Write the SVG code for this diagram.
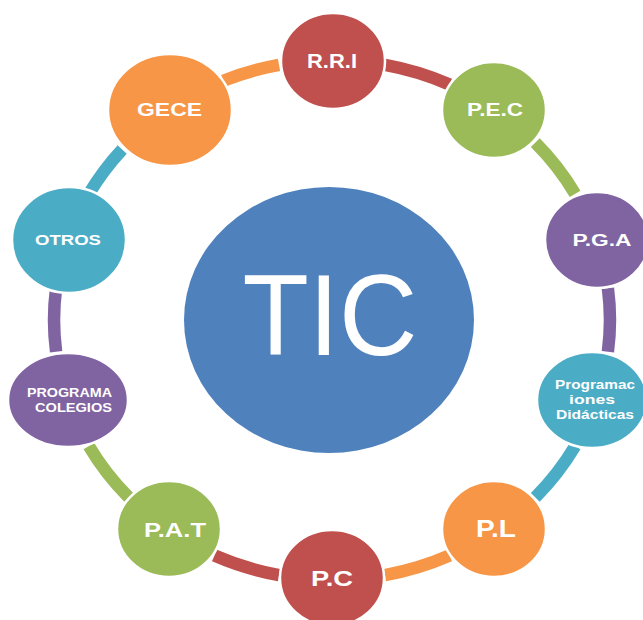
<svg xmlns="http://www.w3.org/2000/svg" width="643" height="620" viewBox="0 0 643 620">
<style>
.c{fill:none;stroke-width:12.5;stroke-linecap:butt}
.n{stroke:#fff;stroke-width:2.5}
.t{fill:#fff;font-family:"Liberation Sans",Arial,sans-serif;font-weight:bold;text-anchor:middle}
.red{fill:#C0504D}.grn{fill:#9BBB59}.pur{fill:#8064A2}.tea{fill:#4BACC6}.org{fill:#F79646}
</style>
<rect width="643" height="620" fill="#fff"/>
<g id="connectors">
<path class="c" stroke="#C0504D" d="M385.0 64.8 A278 260 0 0 1 449.5 84.4"/>
<path class="c" stroke="#9BBB59" d="M535.3 142.7 A278 260 0 0 1 575.1 193.9"/>
<path class="c" stroke="#8064A2" d="M607.9 288.3 A278 260 0 0 1 607.9 351.7"/>
<path class="c" stroke="#4BACC6" d="M575.1 446.1 A278 260 0 0 1 535.3 497.3"/>
<path class="c" stroke="#F79646" d="M449.5 555.6 A278 260 0 0 1 385.0 575.2"/>
<path class="c" stroke="#C0504D" d="M279.0 575.2 A278 260 0 0 1 214.5 555.6"/>
<path class="c" stroke="#9BBB59" d="M128.7 497.3 A278 260 0 0 1 88.9 446.1"/>
<path class="c" stroke="#8064A2" d="M56.1 351.7 A278 260 0 0 1 56.1 288.3"/>
<path class="c" stroke="#4BACC6" d="M88.9 193.9 A278 260 0 0 1 122.2 149.4"/>
<path class="c" stroke="#F79646" d="M223.4 80.7 A278 260 0 0 1 279.0 64.8"/>
</g>
<g id="tic">
<ellipse cx="329" cy="320" rx="145" ry="133" fill="#4F81BD"/>
<text x="330" y="355" font-family="'Liberation Sans',Arial,sans-serif" font-size="115" fill="#fff" text-anchor="middle" textLength="175" lengthAdjust="spacingAndGlyphs">TIC</text>
</g>
<g id="rri"><ellipse class="n red" cx="333" cy="61" rx="52" ry="48"/><text class="t" x="332" y="68" font-size="20" textLength="50" lengthAdjust="spacingAndGlyphs">R.R.I</text></g>
<g id="pec"><ellipse class="n grn" cx="494" cy="110" rx="52" ry="48"/><text class="t" x="495" y="116" font-size="18.6" textLength="56" lengthAdjust="spacingAndGlyphs">P.E.C</text></g>
<g id="pga"><ellipse class="n pur" cx="597" cy="240" rx="52" ry="48"/><text class="t" x="602" y="246" font-size="16" textLength="59" lengthAdjust="spacingAndGlyphs">P.G.A</text></g>
<g id="prog"><ellipse class="n tea" cx="592" cy="400" rx="55" ry="48"/>
<text class="t" x="595" y="389" font-size="12.5" textLength="80" lengthAdjust="spacingAndGlyphs">Programac</text>
<text class="t" x="592" y="404" font-size="12.5" textLength="46" lengthAdjust="spacingAndGlyphs">iones</text>
<text class="t" x="595" y="419" font-size="12.5" textLength="78" lengthAdjust="spacingAndGlyphs">Didácticas</text></g>
<g id="pl"><ellipse class="n org" cx="494" cy="529" rx="52" ry="48"/><text class="t" x="496" y="537" font-size="23" textLength="40" lengthAdjust="spacingAndGlyphs">P.L</text></g>
<g id="pc"><ellipse class="n red" cx="332" cy="578" rx="52" ry="48"/><text class="t" x="332" y="586" font-size="22" textLength="42" lengthAdjust="spacingAndGlyphs">P.C</text></g>
<g id="pat"><ellipse class="n grn" cx="169" cy="529" rx="52" ry="48"/><text class="t" x="175" y="537" font-size="20.5" textLength="62" lengthAdjust="spacingAndGlyphs">P.A.T</text></g>
<g id="colegios"><ellipse class="n pur" cx="68" cy="400" rx="60" ry="47"/>
<text class="t" x="69.5" y="397" font-size="13" textLength="85" lengthAdjust="spacingAndGlyphs">PROGRAMA</text>
<text class="t" x="73.5" y="412" font-size="13" textLength="77" lengthAdjust="spacingAndGlyphs">COLEGIOS</text></g>
<g id="otros"><ellipse class="n tea" cx="69" cy="240" rx="57" ry="53"/><text class="t" x="68" y="245" font-size="15" textLength="66" lengthAdjust="spacingAndGlyphs">OTROS</text></g>
<g id="gece"><ellipse class="n org" cx="170" cy="110" rx="62" ry="56"/><text class="t" x="169.5" y="116" font-size="17.7" textLength="65" lengthAdjust="spacingAndGlyphs">GECE</text></g>
</svg>
